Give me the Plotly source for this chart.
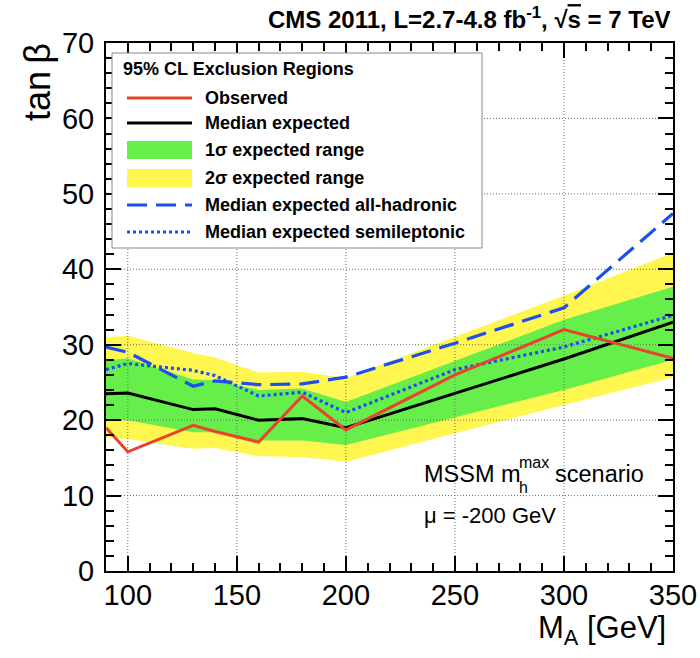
import plotly.graph_objects as go

# Pseudoscalar Higgs mass points (GeV)
mass = [90, 100, 130, 140, 160, 180, 200, 250, 300, 350]

# 95% CL upper limits on tan(beta)
observed = [19.0, 15.8, 19.3, 18.5, 17.1, 23.2, 18.7, 26.0, 32.0, 28.2]
median_expected = [23.5, 23.6, 21.4, 21.5, 20.0, 20.2, 19.0, 23.6, 28.1, 33.0]
one_sigma_low = [20.1, 20.0, 18.4, 18.4, 17.3, 17.3, 16.7, 20.4, 24.0, 28.0]
one_sigma_high = [27.9, 28.2, 25.4, 25.3, 24.0, 24.2, 22.4, 27.9, 33.3, 37.7]
two_sigma_low = [17.7, 17.5, 16.2, 16.3, 15.2, 15.1, 14.5, 18.2, 22.0, 25.7]
two_sigma_high = [31.0, 31.2, 28.9, 28.3, 26.3, 26.4, 25.6, 31.0, 36.5, 42.2]
median_all_hadronic = [29.7, 29.0, 24.5, 25.2, 24.7, 24.8, 25.7, 30.2, 34.9, 47.4]
median_semileptonic = [26.7, 27.5, 26.6, 25.9, 23.2, 23.7, 21.0, 26.7, 29.7, 33.9]

# Axis ticks
x_range = [90, 350]
y_range = [0, 70]
x_grid = [100, 150, 200, 250, 300]
y_grid = [10, 20, 30, 40, 50, 60]

legend_header = "95% CL Exclusion Regions"
legend_labels = [
    "Observed",
    "Median expected",
    "1σ expected range",
    "2σ expected range",
    "Median expected all-hadronic",
    "Median expected semileptonic",
]

FONT = "Liberation Sans, Arial, Helvetica, sans-serif"
RED = "#E8432C"
BLUE = "#1C4FF0"
GREEN = "#66EE4A"
YELLOW = "#FFF650"
DASH = "20px,9px"
DOT = "3px,3px"

# Plot-area pixel frame (used to place paper-referenced decorations)
W, H = 700, 658
L, R, T, B = 106, 673, 43, 571


def px(x):
    return (x - L) / (R - L)


def py(y):
    return (B - y) / (B - T)


fig = go.Figure()

# 2 sigma band
fig.add_trace(go.Scatter(
    x=mass + mass[::-1], y=two_sigma_high + two_sigma_low[::-1],
    fill="toself", fillcolor=YELLOW, line=dict(width=0), mode="lines",
    hoverinfo="skip", showlegend=False))
# 1 sigma band
fig.add_trace(go.Scatter(
    x=mass + mass[::-1], y=one_sigma_high + one_sigma_low[::-1],
    fill="toself", fillcolor=GREEN, line=dict(width=0), mode="lines",
    hoverinfo="skip", showlegend=False))

# dotted grid drawn over the bands
gx, gy = [], []
for v in x_grid:
    gx += [v, v, None]
    gy += [y_range[0], y_range[1], None]
for v in y_grid:
    gx += [x_range[0], x_range[1], None]
    gy += [v, v, None]
fig.add_trace(go.Scatter(x=gx, y=gy, mode="lines",
                         line=dict(color="#6a6a6a", width=1, dash="1px,2px"),
                         hoverinfo="skip", showlegend=False))

# limit curves
fig.add_trace(go.Scatter(x=mass, y=median_all_hadronic, mode="lines",
                         line=dict(color=BLUE, width=3.2, dash=DASH),
                         showlegend=False))
fig.add_trace(go.Scatter(x=mass, y=median_semileptonic, mode="lines",
                         line=dict(color=BLUE, width=3.2, dash=DOT),
                         showlegend=False))
fig.add_trace(go.Scatter(x=mass, y=median_expected, mode="lines",
                         line=dict(color="black", width=3),
                         showlegend=False))
fig.add_trace(go.Scatter(x=mass, y=observed, mode="lines",
                         line=dict(color=RED, width=3),
                         showlegend=False))

shapes = []
annotations = []

# legend box
shapes.append(dict(type="rect", xref="paper", yref="paper",
                   x0=px(112), x1=px(482), y0=py(248), y1=py(53),
                   fillcolor="white", line=dict(color="#8a8a8a", width=1),
                   layer="above"))
annotations.append(dict(xref="paper", yref="paper", x=px(121), y=py(69),
                        xanchor="left", yanchor="middle", showarrow=False,
                        text="<b>" + legend_header + "</b>",
                        font=dict(family=FONT, size=18, color="black")))
rows = [98, 123, 150, 178, 205, 232]
sx0, sx1 = 127, 192
line_styles = {
    0: dict(color=RED, width=3),
    1: dict(color="black", width=3),
    4: dict(color=BLUE, width=3.2, dash=DASH),
    5: dict(color=BLUE, width=3.2, dash=DOT),
}
fills = {2: GREEN, 3: YELLOW}
for i, (label, ry) in enumerate(zip(legend_labels, rows)):
    if i in line_styles:
        shapes.append(dict(type="line", xref="paper", yref="paper",
                           x0=px(sx0), x1=px(sx1), y0=py(ry), y1=py(ry),
                           line=line_styles[i], layer="above"))
    else:
        shapes.append(dict(type="rect", xref="paper", yref="paper",
                           x0=px(sx0), x1=px(sx1), y0=py(ry + 9), y1=py(ry - 9),
                           fillcolor=fills[i], line=dict(width=0), layer="above"))
    annotations.append(dict(xref="paper", yref="paper", x=px(203), y=py(ry),
                            xanchor="left", yanchor="middle", showarrow=False,
                            text="<b>" + label + "</b>",
                            font=dict(family=FONT, size=18, color="black")))

# header line
annotations.append(dict(
    xref="paper", yref="paper", x=px(673), y=py(18), xanchor="right",
    yanchor="middle", showarrow=False,
    text="<b>CMS 2011, L=2.7-4.8 fb<sup>-1</sup>, √<span style='text-decoration:overline'>s</span> = 7 TeV</b>",
    font=dict(family=FONT, size=24, color="black")))

# axis titles
annotations.append(dict(
    xref="paper", yref="paper", x=px(37), y=py(82), xanchor="center",
    yanchor="middle", showarrow=False, textangle=-90, text="tan\u2009β",
    font=dict(family=FONT, size=36, color="black")))
annotations.append(dict(
    xref="paper", yref="paper", x=px(536), y=py(630), xanchor="left",
    yanchor="middle", showarrow=False, text="M<sub>A</sub> [GeV]",
    font=dict(family=FONT, size=31, color="black")))

# scenario text
annotations.append(dict(
    xref="paper", yref="paper", x=px(422), y=py(474), xanchor="left",
    yanchor="middle", showarrow=False, text="MSSM m",
    font=dict(family=FONT, size=23.5, color="black")))
annotations.append(dict(
    xref="paper", yref="paper", x=px(517), y=py(462), xanchor="left",
    yanchor="middle", showarrow=False, text="max",
    font=dict(family=FONT, size=16, color="black")))
annotations.append(dict(
    xref="paper", yref="paper", x=px(517), y=py(487), xanchor="left",
    yanchor="middle", showarrow=False, text="h",
    font=dict(family=FONT, size=16, color="black")))
annotations.append(dict(
    xref="paper", yref="paper", x=px(553), y=py(474), xanchor="left",
    yanchor="middle", showarrow=False, text="scenario",
    font=dict(family=FONT, size=23.5, color="black")))
annotations.append(dict(
    xref="paper", yref="paper", x=px(422), y=py(515), xanchor="left",
    yanchor="middle", showarrow=False, text="μ = -200 GeV",
    font=dict(family=FONT, size=22, color="black")))

axis_common = dict(
    ticks="inside", tickcolor="black", tickwidth=1.5, ticklen=15,
    showline=True, linecolor="black", linewidth=2, mirror="allticks",
    showgrid=False, zeroline=False, layer="above traces", automargin=False,
    tickfont=dict(family=FONT, size=29, color="black"),
)

fig.update_layout(
    width=W, height=H,
    margin=dict(l=L, r=W - R, t=T, b=H - B, autoexpand=False),
    paper_bgcolor="white", plot_bgcolor="white",
    showlegend=False,
    shapes=shapes, annotations=annotations,
    xaxis=dict(range=x_range, tickmode="linear", tick0=0, dtick=50,
               ticklabelstandoff=-3,
               minor=dict(tickmode="linear", tick0=0, dtick=10, ticklen=8,
                          ticks="inside", tickcolor="black", tickwidth=1.5,
                          showgrid=False),
               **axis_common),
    yaxis=dict(range=y_range, tickmode="linear", tick0=0, dtick=10,
               ticklabelstandoff=4,
               minor=dict(tickmode="linear", tick0=0, dtick=2, ticklen=8,
                          ticks="inside", tickcolor="black", tickwidth=1.5,
                          showgrid=False),
               **axis_common),
)

fig.write_html("out.html")
